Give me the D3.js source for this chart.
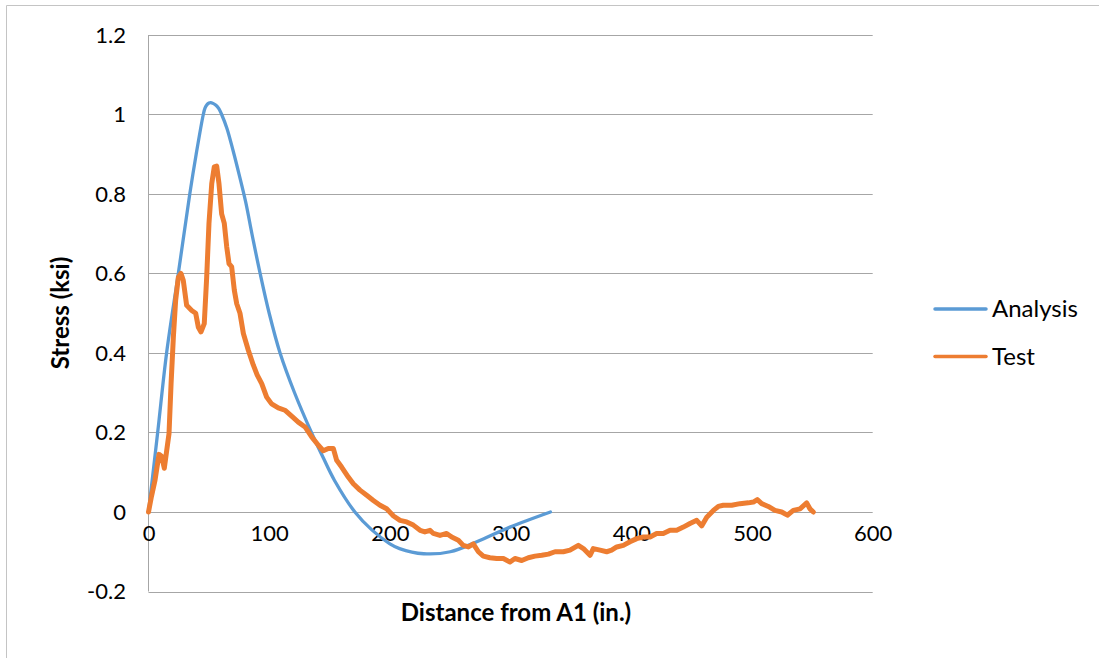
<!DOCTYPE html>
<html>
<head>
<meta charset="utf-8">
<script src="https://cdn.jsdelivr.net/npm/d3@7"></script>
<style>
  html, body { margin: 0; padding: 0; background: #fff; }
  svg { display: block; }
  text { font-family: Lato, "Open Sans", "DejaVu Sans", sans-serif; fill: #000; }
</style>
</head>
<body>
<svg id="chart" width="1099" height="658"></svg>
<script>
// Stress along the girder: analysis prediction vs. measured test values
const analysisDist = [0, 7.6, 15, 24.7, 34.2, 39.5, 45.4, 46.8, 48.5, 50.1, 51.5, 53.4, 55.9, 58.4, 60.6, 65, 70, 75, 80.5, 86, 92.5, 100, 109, 121, 135, 145, 154, 171, 185, 200, 208, 228, 250, 272, 299.5, 333];
const analysisStress = [0, 0.2, 0.4, 0.6, 0.8, 0.9, 1.0, 1.016, 1.025, 1.029, 1.03, 1.028, 1.023, 1.014, 1.0, 0.965, 0.91, 0.85, 0.78, 0.695, 0.6, 0.5, 0.4, 0.3, 0.2, 0.135, 0.08, 0, -0.045, -0.08, -0.092, -0.105, -0.1, -0.075, -0.038, 0];

const testDist = [0, 2.5, 5.4, 8.7, 10.9, 13.1, 15.1, 17, 18.7, 20.6, 22.5, 24.7, 26.9, 28.8, 31.6, 35.8, 39.1, 41.3, 43.5, 46.2, 48.2, 50.1, 52.4, 54.5, 56.5, 58.4, 60.6, 62.8, 64.8, 66.7, 68.9, 71.1, 73.1, 75.8, 78.6, 82.7, 86.8, 90, 93.8, 97.9, 102, 107.5, 113, 118.6, 124.1, 129.7, 135.2, 140.7, 144.8, 149, 153.1, 155.9, 160, 165.5, 169.7, 175.2, 180.8, 186.3, 191.8, 197.3, 203, 208.4, 213.9, 219.4, 225, 229, 233.2, 236, 241.5, 247, 251.2, 256.7, 260.8, 265, 269.1, 273.3, 277.4, 282.9, 288.5, 294, 299.5, 303.6, 309.2, 314.7, 320.2, 325.8, 331.3, 336.8, 343.7, 349.2, 356.1, 360.3, 365.8, 368.5, 374.1, 379.6, 383.7, 387.9, 393.4, 398.9, 404.5, 410, 415.5, 421, 426.5, 432.1, 437.6, 443.1, 448.6, 454.2, 458.3, 462.5, 468, 472.1, 476.2, 483.2, 490, 496.9, 501.1, 504.4, 508, 513.5, 519, 524.6, 529.3, 534.2, 539.8, 545.3, 548, 550.8];
const testStress = [0, 0.04, 0.08, 0.145, 0.14, 0.11, 0.155, 0.197, 0.323, 0.44, 0.533, 0.59, 0.6, 0.583, 0.52, 0.507, 0.5, 0.465, 0.453, 0.474, 0.59, 0.726, 0.826, 0.868, 0.87, 0.826, 0.75, 0.726, 0.667, 0.625, 0.617, 0.558, 0.524, 0.5, 0.449, 0.407, 0.37, 0.345, 0.323, 0.289, 0.272, 0.262, 0.256, 0.241, 0.226, 0.214, 0.189, 0.168, 0.154, 0.16, 0.16, 0.13, 0.113, 0.088, 0.071, 0.055, 0.042, 0.029, 0.017, 0.008, -0.01, -0.021, -0.025, -0.033, -0.046, -0.05, -0.046, -0.054, -0.059, -0.054, -0.063, -0.071, -0.084, -0.088, -0.08, -0.1, -0.111, -0.115, -0.117, -0.117, -0.126, -0.117, -0.122, -0.115, -0.111, -0.109, -0.106, -0.1, -0.1, -0.096, -0.084, -0.092, -0.109, -0.092, -0.096, -0.1, -0.096, -0.088, -0.084, -0.075, -0.067, -0.063, -0.063, -0.054, -0.054, -0.046, -0.046, -0.038, -0.029, -0.021, -0.035, -0.013, 0.004, 0.014, 0.017, 0.017, 0.021, 0.023, 0.025, 0.031, 0.021, 0.014, 0.004, 0, -0.008, 0.004, 0.008, 0.023, 0.008, 0];

const xTicks = [0, 100, 200, 300, 400, 500, 600];
const yTicks = [-0.2, 0, 0.2, 0.4, 0.6, 0.8, 1, 1.2];
const seriesNames = ["Analysis", "Test"];
const seriesColors = ["#5B9BD5", "#ED7D31"];

const svg = d3.select("#chart");

// outer chart frame (only the left and top edges fall inside the view)
svg.append("path")
  .attr("d", "M6.5,658 L6.5,5.5 L1099,5.5")
  .attr("fill", "none").attr("stroke", "#c4c4c4").attr("stroke-width", 1);

const x = d3.scaleLinear().domain([0, 600]).range([148.5, 872.7]);
const y = d3.scaleLinear().domain([-0.2, 1.2]).range([591.5, 35]);

// horizontal gridlines
svg.append("g").selectAll("line").data(yTicks).join("line")
  .attr("x1", x(0)).attr("x2", x(600))
  .attr("y1", d => Math.round(y(d)) + 0.5).attr("y2", d => Math.round(y(d)) + 0.5)
  .attr("stroke", "#a6a6a6").attr("stroke-width", 1);

// vertical axis line
svg.append("line")
  .attr("x1", x(0)).attr("x2", x(0)).attr("y1", y(1.2)).attr("y2", y(-0.2))
  .attr("stroke", "#a6a6a6").attr("stroke-width", 1);

// y tick labels (plain hyphen for negatives)
const yAxis = d3.axisLeft(y).tickValues(yTicks).tickSize(0).tickPadding(0)
  .tickFormat(d => String(+d.toFixed(1)));
const gy = svg.append("g").attr("transform", "translate(126,0)").call(yAxis);
gy.select(".domain").remove();
gy.selectAll("text").attr("font-size", 22).attr("font-family", "Lato, sans-serif").attr("fill", "#000");

// x tick labels sit below the zero line
const xAxis = d3.axisBottom(x).tickValues(xTicks).tickSize(0).tickPadding(0).tickFormat(d => String(d));
const gx = svg.append("g").attr("transform", `translate(0,${y(0) + 22})`).call(xAxis);
gx.select(".domain").remove();
gx.selectAll("text").attr("font-size", 22).attr("font-family", "Lato, sans-serif").attr("fill", "#000")
  .attr("dy", "0.32em");

// series
const analysisPts = analysisDist.map((d, i) => [d, analysisStress[i]]);
const testPts = testDist.map((d, i) => [d, testStress[i]]);

svg.append("path").datum(analysisPts)
  .attr("d", d3.line().x(d => x(d[0])).y(d => y(d[1])).curve(d3.curveCatmullRom.alpha(0.5)))
  .attr("fill", "none").attr("stroke", seriesColors[0]).attr("stroke-width", 3.3)
  .attr("stroke-linejoin", "round").attr("stroke-linecap", "round");

svg.append("path").datum(testPts)
  .attr("d", d3.line().x(d => x(d[0])).y(d => y(d[1])))
  .attr("fill", "none").attr("stroke", seriesColors[1]).attr("stroke-width", 5)
  .attr("stroke-linejoin", "round").attr("stroke-linecap", "round");

// axis titles
svg.append("text")
  .attr("x", 516).attr("y", 621)
  .attr("text-anchor", "middle").attr("font-size", 24).attr("font-weight", "bold")
  .text("Distance from A1 (in.)");

svg.append("text")
  .attr("transform", "translate(69,313) rotate(-90)")
  .attr("text-anchor", "middle").attr("font-size", 24).attr("font-weight", "bold")
  .text("Stress (ksi)");

// legend
const legend = svg.append("g");
seriesNames.forEach((name, i) => {
  const ly = 309 + i * 47.5;
  legend.append("line")
    .attr("x1", 935).attr("x2", 986).attr("y1", ly).attr("y2", ly)
    .attr("stroke", seriesColors[i]).attr("stroke-width", 3.5).attr("stroke-linecap", "round");
  legend.append("text")
    .attr("x", 992).attr("y", ly).attr("dy", "0.35em")
    .attr("font-size", 24).text(name);
});
</script>
</body>
</html>
